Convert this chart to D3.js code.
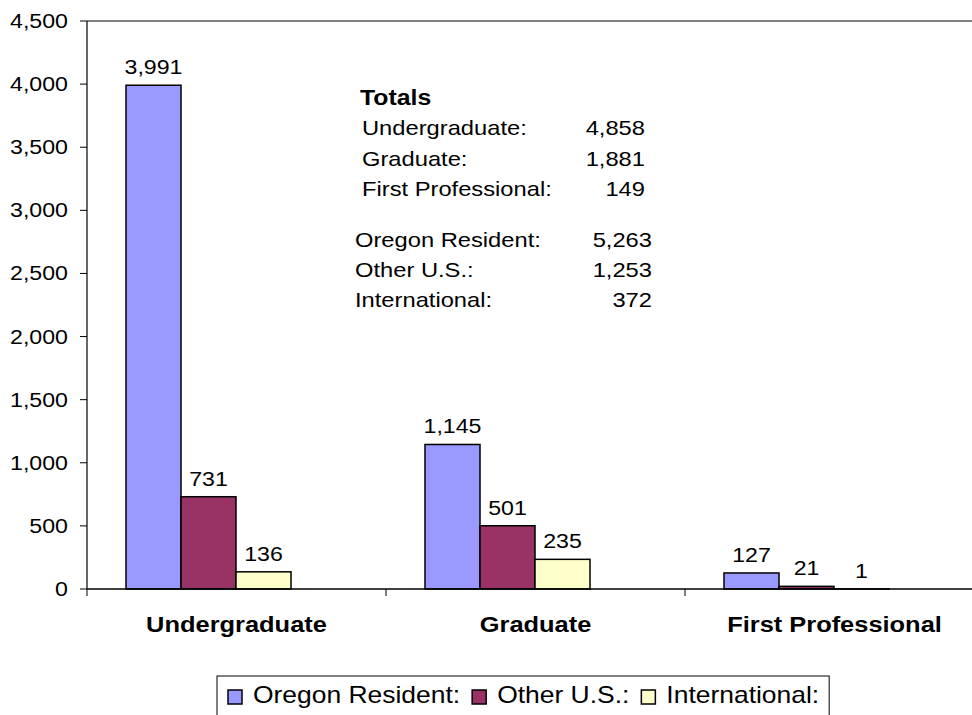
<!DOCTYPE html>
<html>
<head>
<meta charset="utf-8">
<script src="https://cdn.jsdelivr.net/npm/d3@7"></script>
<style>
  body { margin: 0; background: #fff; }
  text { font-family: Arial, "Liberation Sans", sans-serif; fill: #000; }
</style>
</head>
<body>
<script>
// chart data
var categories = ["Undergraduate", "Graduate", "First Professional"];
var seriesNames = ["Oregon Resident:", "Other U.S.:", "International:"];
var oregonResident = [3991, 1145, 127];
var otherUS = [731, 501, 21];
var international = [136, 235, 1];
var seriesColors = ["#9999FF", "#993366", "#FFFFCC"];
var yTicks = [0, 500, 1000, 1500, 2000, 2500, 3000, 3500, 4000, 4500];

var totalsLevelNames = ["Undergraduate:", "Graduate:", "First Professional:"];
var totalsLevelValues = [4858, 1881, 149];
var totalsResNames = ["Oregon Resident:", "Other U.S.:", "International:"];
var totalsResValues = [5263, 1253, 372];

var w = 972, h = 715;
var plotLeft = 87, plotTop = 21, plotBottom = 589, bandW = 299;
var sx = 1.13; // text in the picture is a bit wider than tall

var svg = d3.select("body").append("svg")
    .attr("width", w)
    .attr("height", h);

var fmt = d3.format(",");

var y = d3.scaleLinear().domain([0, 4500]).range([plotBottom, plotTop]);
var x = d3.scaleBand().domain(categories).range([plotLeft, plotLeft + bandW * categories.length]);
var xs = d3.scaleBand().domain(d3.range(seriesNames.length)).range([39, 39 + 165]);

// write text, stretched horizontally
function label(g, tx, ty, s, size, anchor, weight, scale) {
	return g.append("text")
		.attr("transform", "translate(" + tx + "," + ty + ") scale(" + (scale || sx) + ",1)")
		.attr("text-anchor", anchor || "start")
		.attr("font-size", size)
		.attr("font-weight", weight || "normal")
		.text(s);
}

// top border of plot area
svg.append("line")
	.attr("x1", plotLeft).attr("x2", w)
	.attr("y1", plotTop).attr("y2", plotTop)
	.attr("stroke", "#000").attr("stroke-width", 1);

// bars
var rows = categories.map(function(c, i) {
	return [oregonResident[i], otherUS[i], international[i]];
});
var groups = svg.selectAll("g.cat").data(categories).enter()
	.append("g").attr("class", "cat")
	.attr("transform", function(d) { return "translate(" + x(d) + ",0)"; });

groups.each(function(c, i) {
	var g = d3.select(this);
	rows[i].forEach(function(v, s) {
		g.append("rect")
			.attr("x", xs(s))
			.attr("y", y(v))
			.attr("width", xs.bandwidth())
			.attr("height", plotBottom - y(v))
			.attr("fill", seriesColors[s])
			.attr("stroke", "#000")
			.attr("stroke-width", 1.5);
		label(g, xs(s) + xs.bandwidth() / 2, y(v) - 11, fmt(v), 20.5, "middle");
	});
});

// y axis
svg.append("line")
	.attr("x1", plotLeft).attr("x2", plotLeft)
	.attr("y1", plotTop).attr("y2", plotBottom)
	.attr("stroke", "#000").attr("stroke-width", 1.2);
yTicks.forEach(function(t) {
	svg.append("line")
		.attr("x1", plotLeft - 7).attr("x2", plotLeft)
		.attr("y1", y(t)).attr("y2", y(t))
		.attr("stroke", "#000").attr("stroke-width", 1);
	label(svg, 68, y(t) + 7, fmt(t), 20.5, "end");
});

// x axis
svg.append("line")
	.attr("x1", plotLeft).attr("x2", w)
	.attr("y1", plotBottom).attr("y2", plotBottom)
	.attr("stroke", "#000").attr("stroke-width", 1.5);
d3.range(categories.length + 1).forEach(function(k) {
	var tx = plotLeft + bandW * k;
	svg.append("line")
		.attr("x1", tx).attr("x2", tx)
		.attr("y1", plotBottom).attr("y2", plotBottom + 7)
		.attr("stroke", "#000").attr("stroke-width", 1);
});
categories.forEach(function(c) {
	label(svg, x(c) + x.bandwidth() / 2, 632, c, 22.3, "middle", "bold", 1.14);
});

// totals box
label(svg, 360, 105, "Totals", 22, "start", "bold");
var rowY1 = [135, 166, 196];
totalsLevelNames.forEach(function(n, i) {
	label(svg, 362, rowY1[i], n, 21);
	label(svg, 645, rowY1[i], fmt(totalsLevelValues[i]), 21, "end");
});
var rowY2 = [247, 277, 307];
totalsResNames.forEach(function(n, i) {
	label(svg, 355, rowY2[i], n, 21);
	label(svg, 652, rowY2[i], fmt(totalsResValues[i]), 21, "end");
});

// legend
var legend = svg.append("g");
var box = legend.append("rect")
	.attr("x", 217).attr("y", 676)
	.attr("height", 60)
	.attr("fill", "#fff")
	.attr("stroke", "#000").attr("stroke-width", 1);
var lx = 228;
seriesNames.forEach(function(n, s) {
	legend.append("rect")
		.attr("x", lx).attr("y", 690)
		.attr("width", 14).attr("height", 14)
		.attr("fill", seriesColors[s])
		.attr("stroke", "#000").attr("stroke-width", 1.5);
	var t = label(legend, lx + 25, 703, n, 23, "start", "normal", 1.15);
	lx = lx + 25 + t.node().getComputedTextLength() * 1.15 + 12;
});
box.attr("width", lx - 217 - 2);
</script>
</body>
</html>
